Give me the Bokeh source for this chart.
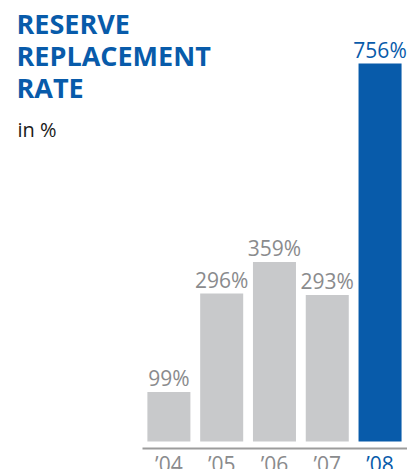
from bokeh.plotting import figure
from bokeh.models import ColumnDataSource, Range1d, Label
from bokeh.core.properties import value
from bokeh.embed import file_html
from bokeh.resources import INLINE

# ---- data ----
years = ["’04", "’05", "’06", "’07", "’08"]
rates = [99, 296, 359, 293, 756]
title_lines = ["RESERVE", "REPLACEMENT", "RATE"]
subtitle = "in %"

# ---- styles ----
BLUE = "#085BAA"
GRAY_BAR = "#C8C9CB"
GRAY_TXT = "#8A8B8D"
AXIS_GRAY = "#9C9C9C"
FONT = "Open Sans"

n = len(years)
idx = list(range(n))
bar_colors = [BLUE if i == n - 1 else GRAY_BAR for i in idx]
txt_colors = [BLUE if i == n - 1 else GRAY_TXT for i in idx]
labels = [f"{v}%" for v in rates]

src = ColumnDataSource(dict(x=idx, v=rates, yr=years, lbl=labels,
                            bc=bar_colors, tc=txt_colors, zero=[0] * n))

x_start, x_end = -3.19, 4.52
p = figure(width=407, height=469, x_range=Range1d(x_start, x_end),
           y_range=Range1d(-56, 882), output_backend="svg",
           toolbar_location=None, min_border=0,
           x_axis_type=None, y_axis_type=None)
p.outline_line_color = None
p.grid.visible = False
p.background_fill_color = "white"
p.border_fill_color = "white"

p.vbar(x="x", top="v", bottom=0, width=0.815, fill_color="bc",
       line_color=None, source=src)

p.text(x="x", y="v", text="lbl", text_color="tc", text_align="center",
       text_baseline="alphabetic", y_offset=-14, text_font=value(FONT),
       text_font_size="21px", source=src)

# baseline axis line
p.segment(x0=[-0.5], y0=[-14], x1=[x_end], y1=[-14],
          line_color=AXIS_GRAY, line_width=2)

p.text(x="x", y="zero", text="yr", text_color="tc", text_align="center",
       text_baseline="alphabetic", y_offset=22, text_font=value(FONT),
       text_font_size="21px", source=src)

H = 469
for i, t in enumerate(title_lines):
    p.add_layout(Label(x=16, y=H - (23 + 32 * i), x_units="screen",
                       y_units="screen", text=t, text_font=FONT,
                       text_font_style="bold", text_font_size="27px",
                       text_color=BLUE, text_baseline="alphabetic"))
p.add_layout(Label(x=17, y=H - 129, x_units="screen", y_units="screen",
                   text=subtitle, text_font=FONT, text_font_size="20px",
                   text_color="#1A1A1A", text_baseline="alphabetic"))

open("out.html", "w").write(file_html(p, INLINE))
